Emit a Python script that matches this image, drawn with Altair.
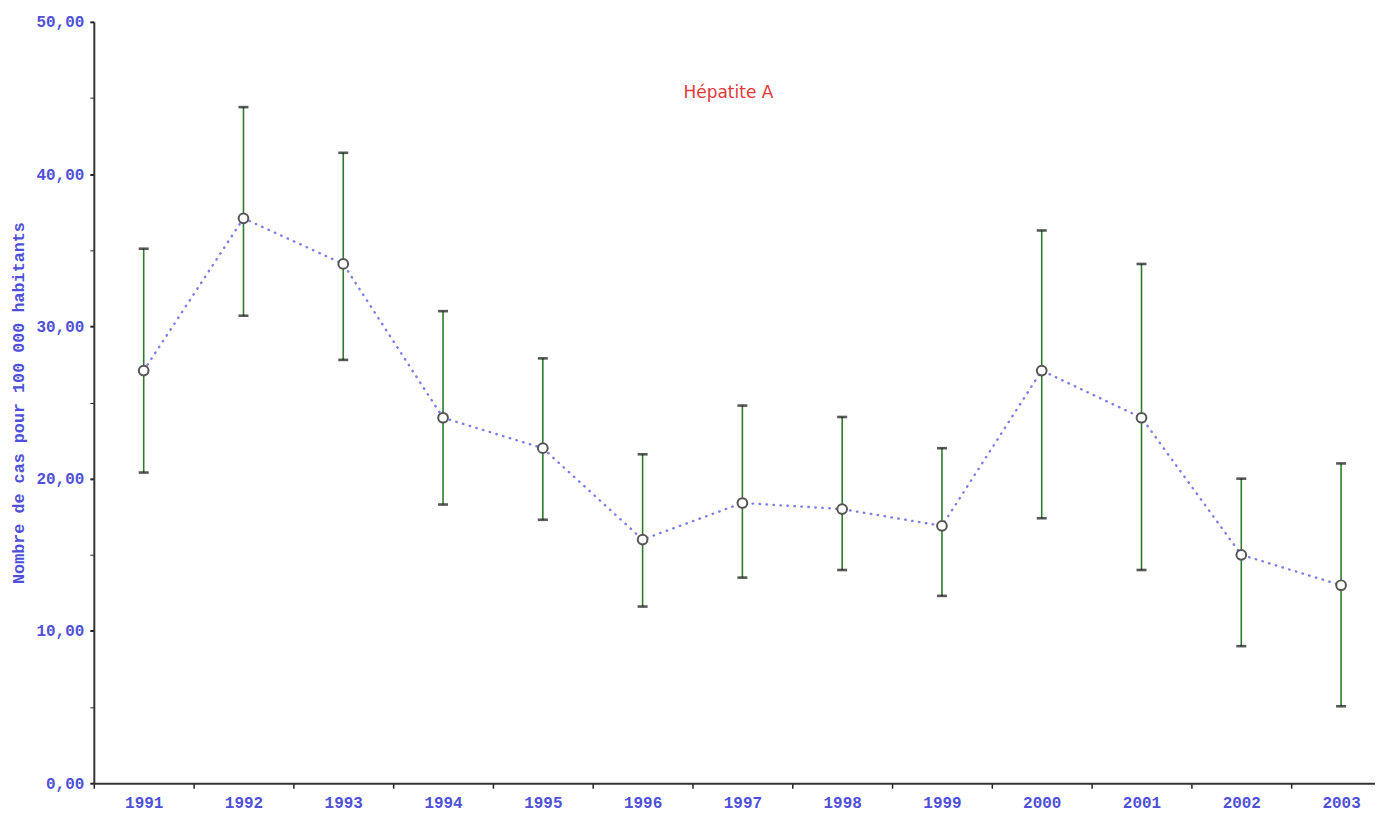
import altair as alt
import pandas as pd

years = [1991, 1992, 1993, 1994, 1995, 1996, 1997, 1998, 1999, 2000, 2001, 2002, 2003]
rates = [27.1, 37.1, 34.1, 24.0, 22.0, 16.0, 18.4, 18.0, 16.9, 27.1, 24.0, 15.0, 13.0]
upper = [35.1, 44.4, 41.4, 31.0, 27.9, 21.6, 24.8, 24.05, 22.0, 36.3, 34.1, 20.0, 21.0]
lower = [20.4, 30.7, 27.8, 18.3, 17.3, 11.6, 13.5, 14.0, 12.3, 17.4, 14.0, 9.0, 5.05]
y_ticks = [0, 5, 10, 15, 20, 25, 30, 35, 40, 45, 50]
x_tick_positions = [y - 0.5 for y in years]

title_text = "Hépatite A"
y_title = "Nombre de cas pour 100 000 habitants"

df = pd.DataFrame({"year": years, "rate": rates, "upper": upper, "lower": lower})

label_color = "#4f4fd8"
mono = "Liberation Mono"

xscale = alt.Scale(domain=[1990.5, 2003.34], nice=False, zero=False)
yscale = alt.Scale(domain=[0, 50], nice=False, zero=True)

x_axis = alt.Axis(
    values=x_tick_positions,
    labelExpr="format(datum.value + 0.5, 'd')",
    labelOffset=50,
    labelFlush=False,
    labelOverlap=False,
    tickSize=5,
    tickWidth=1.5,
    tickColor="#222222",
    labelPadding=6,
)

y_axis = alt.Axis(
    values=y_ticks,
    labelExpr="datum.value % 10 == 0 ? replace(format(datum.value, '.2f'), '.', ',') : ''",
    tickSize=4,
    tickWidth={"condition": {"test": "datum.value % 10 == 0", "value": 2}, "value": 1},
    tickColor="#222222",
    labelPadding=6,
    titlePadding=8,
)


def xe():
    return alt.X("year:Q", scale=xscale, axis=x_axis, title=None)


def ye(field):
    return alt.Y(f"{field}:Q", scale=yscale, axis=y_axis, title=y_title)


base = alt.Chart(df)

rules = base.mark_rule(color="#2f7a2f", strokeWidth=1.6).encode(
    x=xe(), y=ye("lower"), y2="upper:Q"
)
cap_hi = base.mark_tick(color="#111111", thickness=2.6, size=10, orient="horizontal").encode(
    x=xe(), y=ye("upper")
)
cap_lo = base.mark_tick(color="#111111", thickness=2.6, size=10, orient="horizontal").encode(
    x=xe(), y=ye("lower")
)
line = base.mark_line(color="#7d7de6", strokeWidth=2.4, strokeDash=[0.5, 6.5], strokeCap="round").encode(
    x=xe(), y=ye("rate")
)
points = base.mark_point(shape="circle", size=95, filled=True, fill="white",
                         stroke="#555555", strokeWidth=2, opacity=1).encode(
    x=xe(), y=ye("rate")
)

chart = (
    alt.layer(rules, cap_hi, cap_lo, line, points)
    .properties(
        width=1284,
        height=763,
        autosize=alt.AutoSizeParams(type="none"),
        padding={"left": 86, "top": 13, "right": 0, "bottom": 28},
        title=alt.TitleParams(
            title_text,
            color="#e03a3a",
            font="DejaVu Sans",
            fontSize=17,
            fontWeight="normal",
            anchor="middle",
            frame="group",
            baseline="middle",
            offset=-96,
            dx=-6,
        ),
    )
    .configure_view(stroke=None)
    .configure_axis(
        grid=False,
        domainColor="#333333",
        domainWidth=2,
        labelFont=mono,
        labelFontSize=16,
        labelFontWeight="bold",
        labelColor=label_color,
        titleFont=mono,
        titleFontSize=16.8,
        titleFontWeight="bold",
        titleColor=label_color,
    )
)

chart.save("out.html", embed_options={"renderer": "svg", "actions": False})
